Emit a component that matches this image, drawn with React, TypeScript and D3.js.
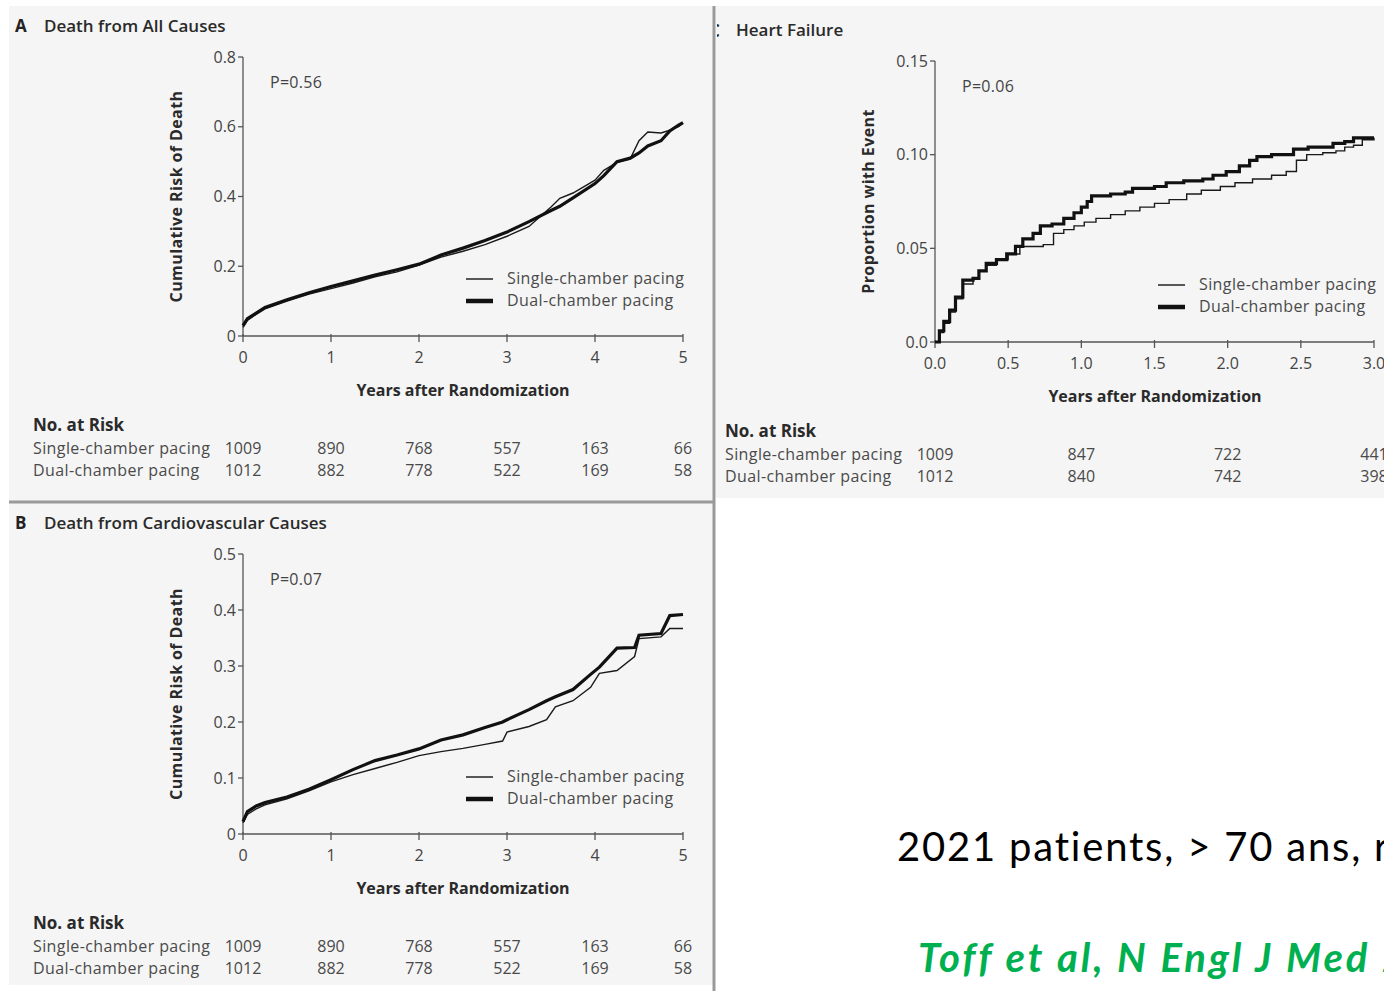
import React from 'react';
import * as d3 from 'd3';

// A: death from all causes
const timesA = [0, 0.05, 0.15, 0.25, 0.5, 0.75, 1, 1.25, 1.5, 1.75, 2, 2.25, 2.5, 2.75, 3, 3.25, 3.5, 3.6, 3.75, 4, 4.1, 4.25, 4.4, 4.5, 4.6, 4.75, 4.85, 4.95, 5];
const singleA = [0.025, 0.045, 0.062, 0.078, 0.1, 0.12, 0.136, 0.152, 0.17, 0.184, 0.203, 0.226, 0.243, 0.262, 0.286, 0.314, 0.37, 0.395, 0.41, 0.447, 0.475, 0.498, 0.508, 0.56, 0.585, 0.582, 0.59, 0.6, 0.61];
const dualA = [0.03, 0.05, 0.066, 0.082, 0.104, 0.124, 0.142, 0.158, 0.175, 0.19, 0.206, 0.232, 0.252, 0.274, 0.298, 0.328, 0.36, 0.372, 0.396, 0.437, 0.46, 0.5, 0.51, 0.525, 0.545, 0.56, 0.588, 0.605, 0.612];

// B: death from cardiovascular causes
const timesB = [0, 0.05, 0.15, 0.25, 0.5, 0.75, 1, 1.25, 1.5, 1.75, 2, 2.25, 2.5, 2.75, 2.95, 3, 3.25, 3.45, 3.55, 3.75, 3.95, 4.05, 4.25, 4.45, 4.5, 4.75, 4.85, 5];
const singleB = [0.02, 0.035, 0.045, 0.052, 0.063, 0.077, 0.093, 0.106, 0.117, 0.128, 0.14, 0.147, 0.153, 0.16, 0.166, 0.182, 0.192, 0.204, 0.227, 0.238, 0.262, 0.287, 0.292, 0.317, 0.349, 0.352, 0.367, 0.367];
const dualB = [0.022, 0.04, 0.05, 0.056, 0.066, 0.08, 0.097, 0.115, 0.131, 0.141, 0.152, 0.168, 0.177, 0.19, 0.2, 0.204, 0.222, 0.238, 0.245, 0.258, 0.285, 0.298, 0.332, 0.333, 0.355, 0.358, 0.39, 0.392];

// C: heart failure (step curves)
const timesSingleC = [0, 0.03, 0.06, 0.1, 0.14, 0.19, 0.26, 0.3, 0.35, 0.42, 0.5, 0.58, 0.67, 0.74, 0.81, 0.88, 0.95, 1.02, 1.1, 1.2, 1.3, 1.4, 1.5, 1.6, 1.72, 1.82, 1.95, 2.05, 2.17, 2.3, 2.4, 2.47, 2.54, 2.65, 2.74, 2.8, 2.86, 2.92, 3];
const singleC = [0, 0.005, 0.01, 0.016, 0.023, 0.031, 0.034, 0.038, 0.041, 0.044, 0.047, 0.051, 0.051, 0.052, 0.058, 0.06, 0.062, 0.064, 0.066, 0.068, 0.07, 0.072, 0.074, 0.076, 0.079, 0.081, 0.083, 0.085, 0.087, 0.089, 0.091, 0.097, 0.1, 0.101, 0.102, 0.104, 0.105, 0.108, 0.109];
const timesDualC = [0, 0.03, 0.06, 0.1, 0.14, 0.19, 0.26, 0.3, 0.35, 0.42, 0.49, 0.55, 0.6, 0.67, 0.72, 0.8, 0.88, 0.95, 1, 1.04, 1.07, 1.2, 1.3, 1.35, 1.5, 1.58, 1.7, 1.83, 1.9, 1.99, 2.08, 2.15, 2.2, 2.3, 2.4, 2.45, 2.55, 2.67, 2.72, 2.8, 2.86, 3];
const dualC = [0, 0.006, 0.011, 0.017, 0.024, 0.033, 0.034, 0.038, 0.042, 0.044, 0.047, 0.051, 0.055, 0.058, 0.062, 0.063, 0.066, 0.069, 0.072, 0.075, 0.078, 0.079, 0.08, 0.082, 0.083, 0.085, 0.086, 0.087, 0.089, 0.091, 0.094, 0.097, 0.099, 0.1, 0.1, 0.103, 0.104, 0.104, 0.106, 0.107, 0.109, 0.109];

// numbers at risk
const riskYearsAB = [0, 1, 2, 3, 4, 5];
const riskSingleAB = [1009, 890, 768, 557, 163, 66];
const riskDualAB = [1012, 882, 778, 522, 169, 58];
const riskYearsC = [0, 1, 2, 3];
const riskSingleC = [1009, 847, 722, 441];
const riskDualC = [1012, 840, 742, 398];

const ticksA = [0, 0.2, 0.4, 0.6, 0.8];
const ticksB = [0, 0.1, 0.2, 0.3, 0.4, 0.5];
const ticksC = [0, 0.05, 0.1, 0.15];
const yearTicks = [0, 1, 2, 3, 4, 5];
const yearTicksC = [0, 0.5, 1, 1.5, 2, 2.5, 3];

const FONT = 'Open Sans, sans-serif';
const TXT = '#444';
const BODY = '#4a4a4a';

function zip(ts, vs) {
  return ts.map((t, i) => [t, vs[i]]);
}

function KMPanel(props) {
  const { left, top, width, height, xMax, yMax, xTicks, xFmt, yTicks, yFmt,
    letter, title, pText, yLabel, single, dual, step, riskYears, riskSingle, riskDual } = props;
  const bottom = top + height;
  const x = d3.scaleLinear().domain([0, xMax]).range([left, left + width]);
  const y = d3.scaleLinear().domain([0, yMax]).range([bottom, top]);
  const line = d3.line()
    .x(d => x(d[0]))
    .y(d => y(d[1]))
    .curve(step ? d3.curveStepAfter : d3.curveLinear);

  return (
    <g fontFamily={FONT}>
      {letter && <text x={left - 228} y={top - 25} fontSize={17} fontWeight={700} fill="#222">{letter}</text>}
      <text x={left - 199} y={top - 25} fontSize={17} fontWeight={600} fill="#2a2a2a">{title}</text>
      <text x={left + 27} y={top + 31} fontSize={16} letterSpacing={0.3} fill={TXT}>{pText}</text>

      {/* y axis */}
      <line x1={left} x2={left} y1={top} y2={bottom} stroke="#555" strokeWidth={1.3} />
      {yTicks.map(t => (
        <g key={'y' + t}>
          <line x1={left - 5} x2={left} y1={y(t)} y2={y(t)} stroke="#555" strokeWidth={1.3} />
          <text x={left - 7} y={y(t) + 5.5} fontSize={16} textAnchor="end" fill={TXT}>{yFmt(t)}</text>
        </g>
      ))}
      <text
        transform={`translate(${left - 61},${(top + bottom) / 2}) rotate(-90)`}
        fontSize={16} letterSpacing={0.4} fontWeight={700} textAnchor="middle" fill="#2a2a2a"
      >{yLabel}</text>

      {/* x axis */}
      <line x1={left} x2={left + width} y1={bottom} y2={bottom} stroke="#555" strokeWidth={1.3} />
      {xTicks.map(t => (
        <g key={'x' + t}>
          <line x1={x(t)} x2={x(t)} y1={bottom - 2} y2={bottom + 6} stroke="#555" strokeWidth={1.3} />
          <text x={x(t)} y={bottom + 27} fontSize={16} textAnchor="middle" fill={TXT}>{xFmt(t)}</text>
        </g>
      ))}
      <text x={left + 220} y={bottom + 60} fontSize={16} fontWeight={700} textAnchor="middle" fill="#2a2a2a">
        Years after Randomization
      </text>

      {/* curves */}
      <path d={line(single)} fill="none" stroke="#1a1a1a" strokeWidth={1.4} />
      <path d={line(dual)} fill="none" stroke="#111" strokeWidth={3.2} />

      {/* legend */}
      <line x1={left + 223} x2={left + 250} y1={bottom - 57} y2={bottom - 57} stroke="#222" strokeWidth={1.5} />
      <line x1={left + 223} x2={left + 250} y1={bottom - 35} y2={bottom - 35} stroke="#111" strokeWidth={4.5} />
      <text x={left + 264} y={bottom - 52} fontSize={16} letterSpacing={0.4} fill={BODY}>Single-chamber pacing</text>
      <text x={left + 264} y={bottom - 30} fontSize={16} letterSpacing={0.4} fill={BODY}>Dual-chamber pacing</text>

      {/* numbers at risk */}
      <text x={left - 210} y={bottom + 95} fontSize={17} fontWeight={700} fill="#2a2a2a">No. at Risk</text>
      <text x={left - 210} y={bottom + 118} fontSize={16} letterSpacing={0.4} fill={BODY}>Single-chamber pacing</text>
      <text x={left - 210} y={bottom + 140} fontSize={16} letterSpacing={0.4} fill={BODY}>Dual-chamber pacing</text>
      {riskYears.map((t, i) => (
        <g key={'r' + t}>
          <text x={x(t)} y={bottom + 118} fontSize={16} textAnchor="middle" fill={BODY}>{riskSingle[i]}</text>
          <text x={x(t)} y={bottom + 140} fontSize={16} textAnchor="middle" fill={BODY}>{riskDual[i]}</text>
        </g>
      ))}
    </g>
  );
}

export default function App() {
  const fmtA = t => (t === 0 ? '0' : d3.format('.1f')(t));
  const fmtC = t => (t === 0 ? '0.0' : d3.format('.2f')(t));
  return (
    <svg width={1384} height={991} style={{ position: 'absolute', left: 0, top: 0, background: '#fff' }}>
      <defs>
        <clipPath id="rightPanel">
          <rect x={717} y={0} width={667} height={500} />
        </clipPath>
      </defs>
      {/* panel backgrounds */}
      <rect x={9} y={6} width={705} height={495} fill="#f5f5f5" />
      <rect x={9} y={503} width={705} height={482} fill="#f5f5f5" />
      <rect x={716} y={6} width={668} height={492} fill="#f5f5f5" />
      <line x1={9} x2={714} y1={502} y2={502} stroke="#9a9a9a" strokeWidth={3} />
      <line x1={714} x2={714} y1={6} y2={991} stroke="#9a9a9a" strokeWidth={3} />

      <KMPanel
        left={243} top={57} width={440} height={279} xMax={5} yMax={0.8}
        xTicks={yearTicks} xFmt={t => String(t)} yTicks={ticksA} yFmt={fmtA}
        letter="A" title="Death from All Causes" pText="P=0.56" yLabel="Cumulative Risk of Death"
        single={zip(timesA, singleA)} dual={zip(timesA, dualA)} step={false}
        riskYears={riskYearsAB} riskSingle={riskSingleAB} riskDual={riskDualAB}
      />
      <KMPanel
        left={243} top={554} width={440} height={280} xMax={5} yMax={0.5}
        xTicks={yearTicks} xFmt={t => String(t)} yTicks={ticksB} yFmt={fmtA}
        letter="B" title="Death from Cardiovascular Causes" pText="P=0.07" yLabel="Cumulative Risk of Death"
        single={zip(timesB, singleB)} dual={zip(timesB, dualB)} step={false}
        riskYears={riskYearsAB} riskSingle={riskSingleAB} riskDual={riskDualAB}
      />
      <g clipPath="url(#rightPanel)">
        <text x={709} y={37} fontSize={17} fontWeight={700} fill="#222" fontFamily={FONT}>C</text>
        <KMPanel
          left={935} top={61} width={439} height={281} xMax={3} yMax={0.15}
          xTicks={yearTicksC} xFmt={t => d3.format('.1f')(t)} yTicks={ticksC} yFmt={fmtC}
          title="Heart Failure" pText="P=0.06" yLabel="Proportion with Event"
          single={zip(timesSingleC, singleC)} dual={zip(timesDualC, dualC)} step={true}
          riskYears={riskYearsC} riskSingle={riskSingleC} riskDual={riskDualC}
        />
      </g>

      <text x={897} y={861} fontSize={40} letterSpacing={1.8} fontFamily="Lato, sans-serif" fill="#000">
        2021 patients, &gt; 70 ans, randomisés
      </text>
      <text x={918} y={972} fontSize={40} letterSpacing={2.9} fontFamily="Lato, sans-serif" fontWeight={700} fontStyle="italic" fill="#00b050">
        Toff et al, N Engl J Med 2005
      </text>
    </svg>
  );
}
